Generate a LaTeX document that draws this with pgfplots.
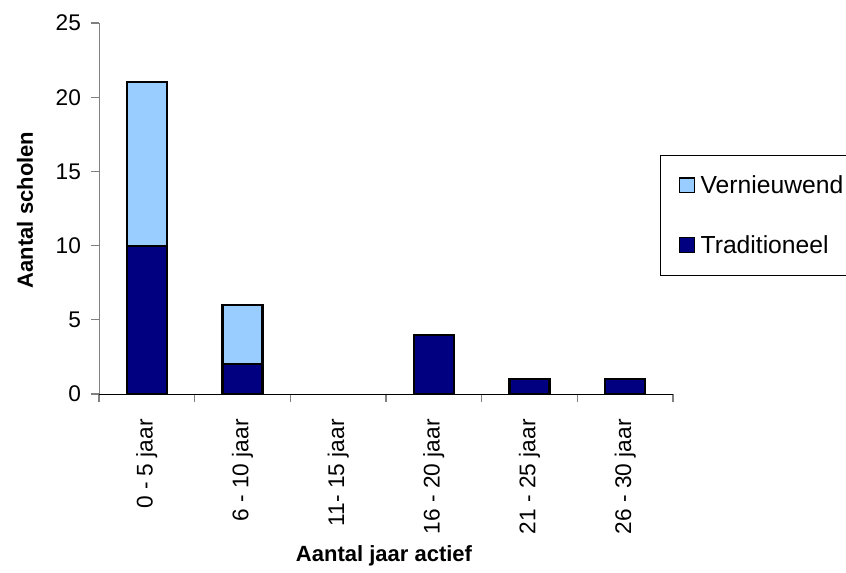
\documentclass[border=0pt]{standalone}
\usepackage{fontspec}
\setmainfont{Liberation Sans}
\usepackage{pgfplots}
\pgfplotsset{compat=1.18}
\definecolor{vern}{HTML}{99CCFF}
\definecolor{trad}{HTML}{000080}
\begin{document}
\begin{tikzpicture}[x=0.75pt,y=0.75pt]
\path[use as bounding box] (0,0) rectangle (846,572);
\begin{axis}[
  at={(74.25pt,133.5pt)}, anchor=south west,
  scale only axis, width=430.5pt, height=278.25pt,
  ybar stacked, bar width=30pt,
  xmin=-0.5, xmax=5.5, ymin=0, ymax=25,
  axis x line=bottom, axis y line=left,
  axis line style={-},
  y axis line style={draw=gray},
  x axis line style={draw=black},
  ytick={0,5,...,25},
  xtick={0,...,5},
  xticklabels={0 - 5 jaar, 6 - 10 jaar, 11- 15 jaar, 16 - 20 jaar, 21 - 25 jaar, 26 - 30 jaar},
  major x tick style={draw=none},
  minor xtick={-0.5,0.5,...,5.5},
  minor x tick style={draw=gray, line width=0.8pt},
  minor tick length=6pt,
  y tick style={draw=gray, line width=0.8pt},
  major tick length=6pt,
  tick align=outside,
  /pgf/number format/assume math mode=true,
  tick label style={font=\fontsize{17}{20}\selectfont},
  xticklabel style={rotate=90, anchor=east, xshift=-9.5pt},
  yticklabel style={xshift=-4pt},
  xlabel={Aantal jaar actief},
  ylabel={Aantal scholen},
  label style={font=\fontsize{16.5}{19}\selectfont\bfseries},
  xlabel style={at={(axis description cs:0.4965,-0.4367)}, anchor=center},
  ylabel style={at={(axis description cs:-0.129,0.496)}, anchor=center, rotate=0},
  reverse legend,
  legend style={at={(axis description cs:0.9774,0.6442)}, anchor=north west,
    draw=black, line width=0.8pt, font=\fontsize{18.5}{22}\selectfont,
    inner xsep=14pt, inner ysep=13pt, row sep=26pt,
    /tikz/every odd column/.append style={column sep=2pt}},
  legend cell align=left,
  legend image code/.code={\draw[#1, draw=black, line width=0.8pt] (0pt,-5.6pt) rectangle (11.25pt,5.6pt);},
]
\addplot[fill=trad, draw=black, line width=1.6pt] coordinates {(0,10) (1,2) (2,0) (3,4) (4,1) (5,1)};
\addplot[fill=vern, draw=black, line width=1.6pt] coordinates {(0,11) (1,4) (2,0) (3,0) (4,0) (5,0)};
\legend{Traditioneel, {Vernieuwend\rule{40pt}{0pt}}}
\end{axis}
\end{tikzpicture}
\end{document}
